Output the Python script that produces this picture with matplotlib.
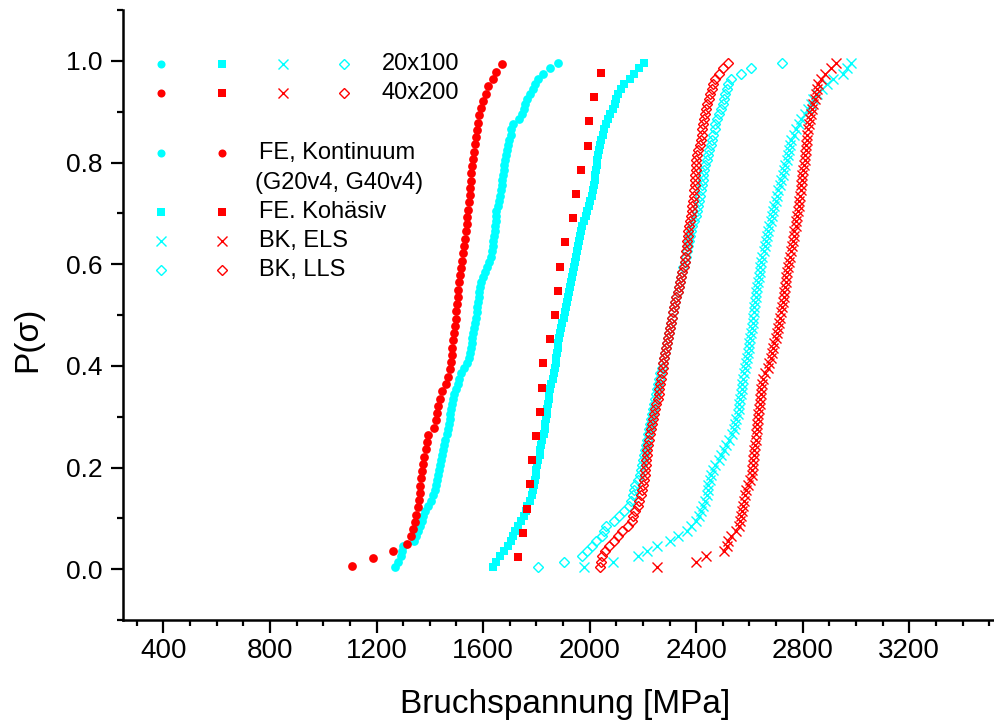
import numpy as np
import matplotlib
matplotlib.use("Agg")
import matplotlib.pyplot as plt
from matplotlib.lines import Line2D
from matplotlib.ticker import MultipleLocator

# ---------------------------------------------------------------
# data: sorted fracture stresses in MPa
# ---------------------------------------------------------------
fe_kont_20 = [1270, 1281, 1290, 1295, 1300, 1340, 1350, 1357, 1363, 1370,
              1376, 1382, 1394, 1403, 1411, 1418, 1424, 1428, 1432, 1435,
              1438, 1442, 1446, 1450, 1454, 1458, 1463, 1467, 1471, 1474,
              1477, 1480, 1483, 1486, 1490, 1497, 1504, 1510, 1516, 1530,
              1540, 1546, 1550, 1553, 1557, 1560, 1564, 1567, 1570, 1573,
              1576, 1579, 1582, 1584, 1586, 1589, 1594, 1598, 1606, 1615,
              1624, 1631, 1635, 1637, 1639, 1641, 1643, 1646, 1647, 1648,
              1650, 1655, 1659, 1663, 1666, 1670, 1672, 1675, 1677, 1680,
              1682, 1686, 1690, 1695, 1699, 1703, 1706, 1713, 1735, 1746,
              1753, 1759, 1765, 1775, 1786, 1796, 1808, 1826, 1853, 1880]

fe_kont_40 = [1107, 1186, 1263, 1315, 1329, 1337, 1345, 1350, 1355, 1359,
              1362, 1365, 1368, 1372, 1376, 1380, 1384, 1388, 1394, 1416,
              1422, 1427, 1431, 1438, 1444, 1462, 1468, 1476, 1479, 1482,
              1485, 1488, 1491, 1494, 1497, 1499, 1502, 1505, 1507, 1510,
              1514, 1518, 1522, 1525, 1529, 1532, 1535, 1538, 1541, 1544,
              1547, 1550, 1552, 1554, 1556, 1559, 1562, 1565, 1568, 1572,
              1576, 1581, 1586, 1592, 1601, 1610, 1620, 1636, 1648, 1670]

fe_koh_20 = [1637, 1650, 1665, 1680, 1694, 1703, 1712, 1720, 1730, 1742,
             1754, 1760, 1766, 1775, 1782, 1787, 1791, 1794, 1797, 1800,
             1802, 1808, 1812, 1815, 1819, 1822, 1828, 1831, 1834, 1837,
             1839, 1841, 1843, 1846, 1849, 1852, 1856, 1862, 1867, 1870,
             1872, 1875, 1878, 1881, 1883, 1885, 1888, 1893, 1898, 1902,
             1907, 1911, 1914, 1918, 1922, 1926, 1930, 1934, 1938, 1942,
             1946, 1949, 1952, 1955, 1959, 1963, 1967, 1972, 1978, 1985,
             1991, 1997, 2003, 2008, 2013, 2017, 2020, 2022, 2024, 2026,
             2029, 2032, 2036, 2040, 2044, 2049, 2054, 2060, 2068, 2078,
             2088, 2095, 2100, 2108, 2116, 2130, 2150, 2168, 2185, 2203]

fe_koh_40 = [1731, 1750, 1766, 1777, 1783, 1798, 1815, 1820, 1826, 1850,
             1869, 1881, 1890, 1906, 1937, 1948, 1969, 1994, 1998, 2016,
             2044]

bk_els_20 = [1978, 2088, 2180, 2215, 2253, 2303, 2332, 2364, 2381, 2399,
             2412, 2418, 2425, 2433, 2440, 2443, 2446, 2451, 2456, 2462,
             2470, 2484, 2494, 2503, 2512, 2525, 2535, 2541, 2546, 2551,
             2556, 2559, 2562, 2565, 2568, 2571, 2574, 2577, 2580, 2583,
             2587, 2592, 2596, 2598, 2600, 2602, 2605, 2608, 2612, 2614,
             2617, 2619, 2621, 2623, 2625, 2627, 2631, 2636, 2639, 2641,
             2644, 2647, 2654, 2659, 2663, 2666, 2669, 2674, 2680, 2686,
             2690, 2694, 2699, 2703, 2708, 2713, 2719, 2726, 2730, 2734,
             2740, 2746, 2750, 2752, 2757, 2767, 2776, 2786, 2795, 2808,
             2819, 2830, 2840, 2852, 2872, 2890, 2912, 2950, 2968, 2980]

bk_els_40 = [2253, 2400, 2438, 2505, 2515, 2520, 2530, 2550, 2560, 2565,
             2570, 2573, 2577, 2581, 2585, 2589, 2596, 2603, 2608, 2611,
             2613, 2615, 2617, 2619, 2621, 2624, 2626, 2628, 2630, 2632,
             2634, 2636, 2638, 2640, 2642, 2644, 2646, 2651, 2658, 2670,
             2675, 2680, 2685, 2690, 2694, 2698, 2703, 2707, 2711, 2715,
             2719, 2722, 2725, 2728, 2730, 2733, 2736, 2739, 2741, 2744,
             2748, 2752, 2756, 2759, 2763, 2766, 2769, 2773, 2776, 2779,
             2782, 2785, 2788, 2791, 2793, 2795, 2797, 2799, 2802, 2805,
             2808, 2810, 2812, 2814, 2816, 2818, 2821, 2825, 2828, 2832,
             2836, 2840, 2845, 2849, 2854, 2858, 2868, 2882, 2905, 2926]

bk_lls_20 = [1806, 1903, 1970, 1990, 2010, 2025, 2045, 2055, 2062, 2090,
             2112, 2130, 2146, 2155, 2162, 2167, 2172, 2180, 2188, 2192,
             2196, 2200, 2203, 2207, 2211, 2215, 2218, 2222, 2226, 2230,
             2234, 2238, 2243, 2247, 2250, 2253, 2256, 2260, 2265, 2270,
             2274, 2278, 2282, 2285, 2289, 2293, 2297, 2300, 2304, 2308,
             2312, 2316, 2320, 2325, 2330, 2334, 2339, 2344, 2348, 2352,
             2357, 2362, 2366, 2370, 2374, 2378, 2382, 2386, 2392, 2398,
             2402, 2406, 2410, 2414, 2418, 2421, 2424, 2427, 2430, 2435,
             2439, 2444, 2450, 2456, 2461, 2465, 2469, 2472, 2479, 2486,
             2493, 2499, 2504, 2510, 2516, 2520, 2530, 2570, 2605, 2724]

bk_lls_40 = [2040, 2043, 2048, 2056, 2074, 2090, 2106, 2123, 2143, 2158,
             2164, 2170, 2180, 2186, 2192, 2196, 2200, 2204, 2207, 2209,
             2211, 2212, 2214, 2216, 2219, 2222, 2226, 2230, 2233, 2237,
             2242, 2246, 2251, 2256, 2259, 2262, 2266, 2269, 2271, 2274,
             2277, 2280, 2283, 2287, 2291, 2294, 2298, 2302, 2306, 2310,
             2314, 2318, 2322, 2326, 2330, 2334, 2339, 2344, 2348, 2353,
             2357, 2359, 2362, 2364, 2366, 2369, 2371, 2374, 2377, 2380,
             2383, 2386, 2389, 2391, 2393, 2394, 2395, 2397, 2398, 2400,
             2401, 2404, 2408, 2413, 2418, 2421, 2423, 2426, 2428, 2432,
             2436, 2440, 2447, 2453, 2460, 2465, 2472, 2485, 2502, 2520]

size_labels = ["20x100", "40x200"]
model_labels = ["FE, Kontinuum\n(G20v4, G40v4)", "FE. Kohäsiv", "BK, ELS", "BK, LLS"]

CYAN = "#00FFFF"
RED = "#FF0000"

W, H = 995, 727
plt.rcParams['font.family'] = ['Liberation Sans', 'DejaVu Sans']


def median_rank(vals):
    # plotting position P = (i - 0.5) / n of the sorted sample
    n = len(vals)
    return (np.arange(1, n + 1) - 0.5) / n


def pxf(x, y):
    # pixel position in the picture -> figure fraction
    return x / W, 1 - y / H


styles = {
    'o': dict(marker='o', ms=6.3, mew=0),
    's': dict(marker='s', ms=5.5, mew=0),
    'x': dict(marker='x', ms=7, mew=1.0),
    'D': dict(marker='D', ms=5.5, mew=1.0, mfc='none'),
}
leg_ms = {'o': 5.8, 's': 5.2, 'x': 7, 'D': 5.5}

fig = plt.figure(figsize=(W / 100, H / 100), dpi=100)
ax = fig.add_axes([123.5 / W, 107 / H, 1 - 123.5 / W, 610 / H])

series = [
    (fe_kont_20, CYAN, 'o'), (fe_kont_40, RED, 'o'),
    (fe_koh_20, CYAN, 's'), (fe_koh_40, RED, 's'),
    (bk_lls_20, CYAN, 'D'), (bk_lls_40, RED, 'D'),
    (bk_els_20, CYAN, 'x'), (bk_els_40, RED, 'x'),
]
for vals, col, mk in series:
    st = dict(styles[mk])
    if mk == 'D':
        ax.plot(vals, median_rank(vals), ls='none', mec=col, **st)
    else:
        ax.plot(vals, median_rank(vals), ls='none', color=col, **st)

ax.set_xlim(250, 3522)
ax.set_ylim(-0.1, 1.1)
ax.xaxis.set_major_locator(MultipleLocator(400))
ax.xaxis.set_minor_locator(MultipleLocator(100))
ax.yaxis.set_major_locator(MultipleLocator(0.2))
ax.yaxis.set_minor_locator(MultipleLocator(0.1))
ax.yaxis.set_major_formatter(plt.FormatStrFormatter('%.1f'))

for s in ['top', 'right']:
    ax.spines[s].set_visible(False)
for s in ['left', 'bottom']:
    ax.spines[s].set_linewidth(1.8)
ax.tick_params(which='major', direction='out', length=9, width=1.6)
ax.tick_params(which='minor', direction='out', length=4.5, width=1.6)
ax.tick_params(axis='x', which='major', labelsize=20, pad=4)
ax.tick_params(axis='y', which='major', labelsize=19, pad=6)

fig.text(*pxf(565, 705), "Bruchspannung [MPa]", fontsize=24, ha='center', va='center')
fig.text(*pxf(28, 339), "P(\u03c3)", fontsize=24, ha='center', va='center', rotation=90)


def leg_marker(cx, cy, col, mk):
    st = dict(styles[mk])
    st['ms'] = leg_ms[mk]
    x, y = pxf(cx, cy)
    if mk == 'D':
        fig.add_artist(Line2D([x], [y], ls='none', mec=col, **st))
    else:
        fig.add_artist(Line2D([x], [y], ls='none', color=col, **st))


# legend, Origin style
col_x = [160.7, 222, 282.7, 344]
mks = ['o', 's', 'x', 'D']
for row_y, col, lab in [(64.3, CYAN, size_labels[0]), (93.3, RED, size_labels[1])]:
    for cx, mk in zip(col_x, mks):
        leg_marker(cx, row_y, col, mk)
    fig.text(*pxf(381.7, row_y), lab, fontsize=17, ha='left', va='center')

row_ys = [152.7, 211.7, 241, 270]
for row_y, mk, lab in zip(row_ys, mks, model_labels):
    for cx, col in zip(col_x[:2], [CYAN, RED]):
        leg_marker(cx, row_y, col, mk)
    lines = lab.split("\n")
    fig.text(*pxf(259, row_y), lines[0], fontsize=17, ha='left', va='center')
    if len(lines) > 1:
        fig.text(*pxf(255, 183.3), lines[1], fontsize=17, ha='left', va='center')

fig.savefig("out.png", dpi=100)
